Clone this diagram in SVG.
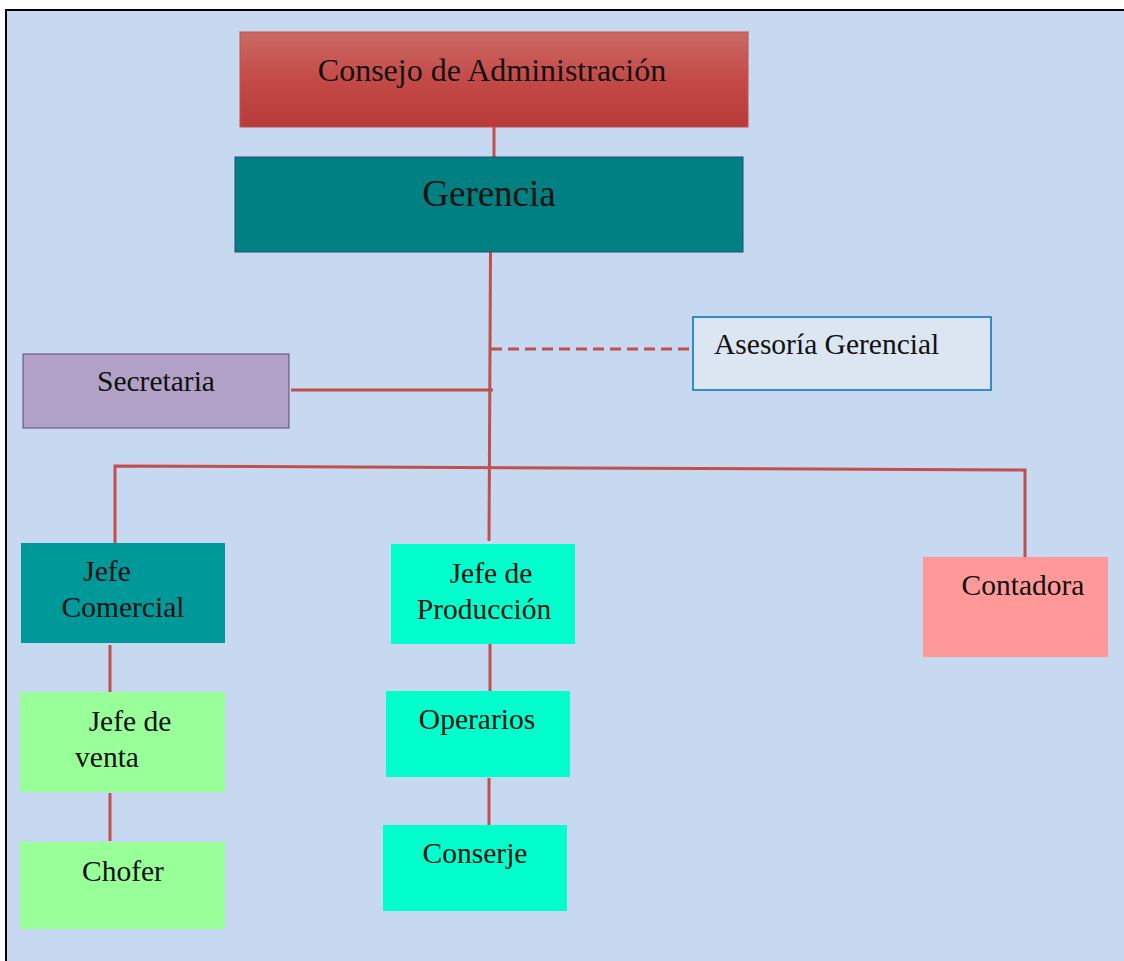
<svg xmlns="http://www.w3.org/2000/svg" width="1124" height="961" viewBox="0 0 1124 961">
<style>
text{font-family:"Liberation Serif","Times New Roman",serif;fill:#111;font-size:29.5px}
.c{text-anchor:middle}
.ln{stroke:#C0504D;stroke-width:3;fill:none}
</style>
<defs>
<linearGradient id="red" x1="0" y1="0" x2="0" y2="1">
<stop offset="0" stop-color="#CB6A64"/>
<stop offset="0.5" stop-color="#C44A47"/>
<stop offset="1" stop-color="#B83B39"/>
</linearGradient>
</defs>
<rect x="0" y="0" width="1124" height="961" fill="#ffffff"/>
<rect x="6" y="10" width="1130" height="960" fill="#C6D9F1" stroke="#000" stroke-width="2"/>
<g id="connectors">
<line class="ln" x1="494" y1="127" x2="494" y2="157"/>
<line class="ln" x1="490.5" y1="252" x2="489" y2="541"/>
<line class="ln" x1="491" y1="349" x2="693" y2="349" stroke-dasharray="11,6"/>
<line class="ln" x1="291" y1="390" x2="493" y2="390"/>
<polyline class="ln" points="115,543 115,466 1025,470 1025,557"/>
<line class="ln" x1="110" y1="645" x2="110" y2="692"/>
<line class="ln" x1="110" y1="793" x2="110" y2="841"/>
<line class="ln" x1="490" y1="644" x2="490" y2="691"/>
<line class="ln" x1="489" y1="778" x2="489" y2="826"/>
</g>
<g id="consejo">
<rect x="240" y="32" width="508" height="95" fill="url(#red)" stroke="#C0504D" stroke-width="1"/>
<text class="c" x="492" y="81" style="font-size:32px">Consejo de Administración</text>
</g>
<g id="gerencia">
<rect x="235" y="157" width="508" height="95" fill="#008080" stroke="#1F4E79" stroke-width="1"/>
<text class="c" x="489" y="206" style="font-size:37px">Gerencia</text>
</g>
<g id="asesoria">
<rect x="693" y="317" width="298" height="73" fill="#DCE6F2" stroke="#0070C0" stroke-width="1.5"/>
<text x="714" y="354">Asesoría Gerencial</text>
</g>
<g id="secretaria">
<rect x="23" y="354" width="266" height="74" fill="#B2A1C7" stroke="#5F497A" stroke-width="1"/>
<text class="c" x="156" y="391">Secretaria</text>
</g>
<g id="jefe-comercial">
<rect x="21" y="543" width="204" height="100" fill="#009999"/>
<text class="c" x="107" y="581">Jefe</text>
<text class="c" x="123" y="617">Comercial</text>
</g>
<g id="jefe-venta">
<rect x="20" y="692" width="205" height="100" fill="#99FF99"/>
<text class="c" x="130" y="731">Jefe de</text>
<text class="c" x="107" y="767">venta</text>
</g>
<g id="chofer">
<rect x="20" y="842" width="205" height="87" fill="#99FF99"/>
<text class="c" x="123" y="881">Chofer</text>
</g>
<g id="jefe-produccion">
<rect x="391" y="544" width="184" height="100" fill="#00FFCC"/>
<text class="c" x="491" y="583">Jefe de</text>
<text class="c" x="484" y="619">Producción</text>
</g>
<g id="operarios">
<rect x="386" y="691" width="184" height="86" fill="#00FFCC"/>
<text class="c" x="477" y="729">Operarios</text>
</g>
<g id="conserje">
<rect x="383" y="825" width="184" height="86" fill="#00FFCC"/>
<text class="c" x="475" y="863">Conserje</text>
</g>
<g id="contadora">
<rect x="923" y="557" width="185" height="100" fill="#FF9999"/>
<text class="c" x="1023" y="595">Contadora</text>
</g>
</svg>
